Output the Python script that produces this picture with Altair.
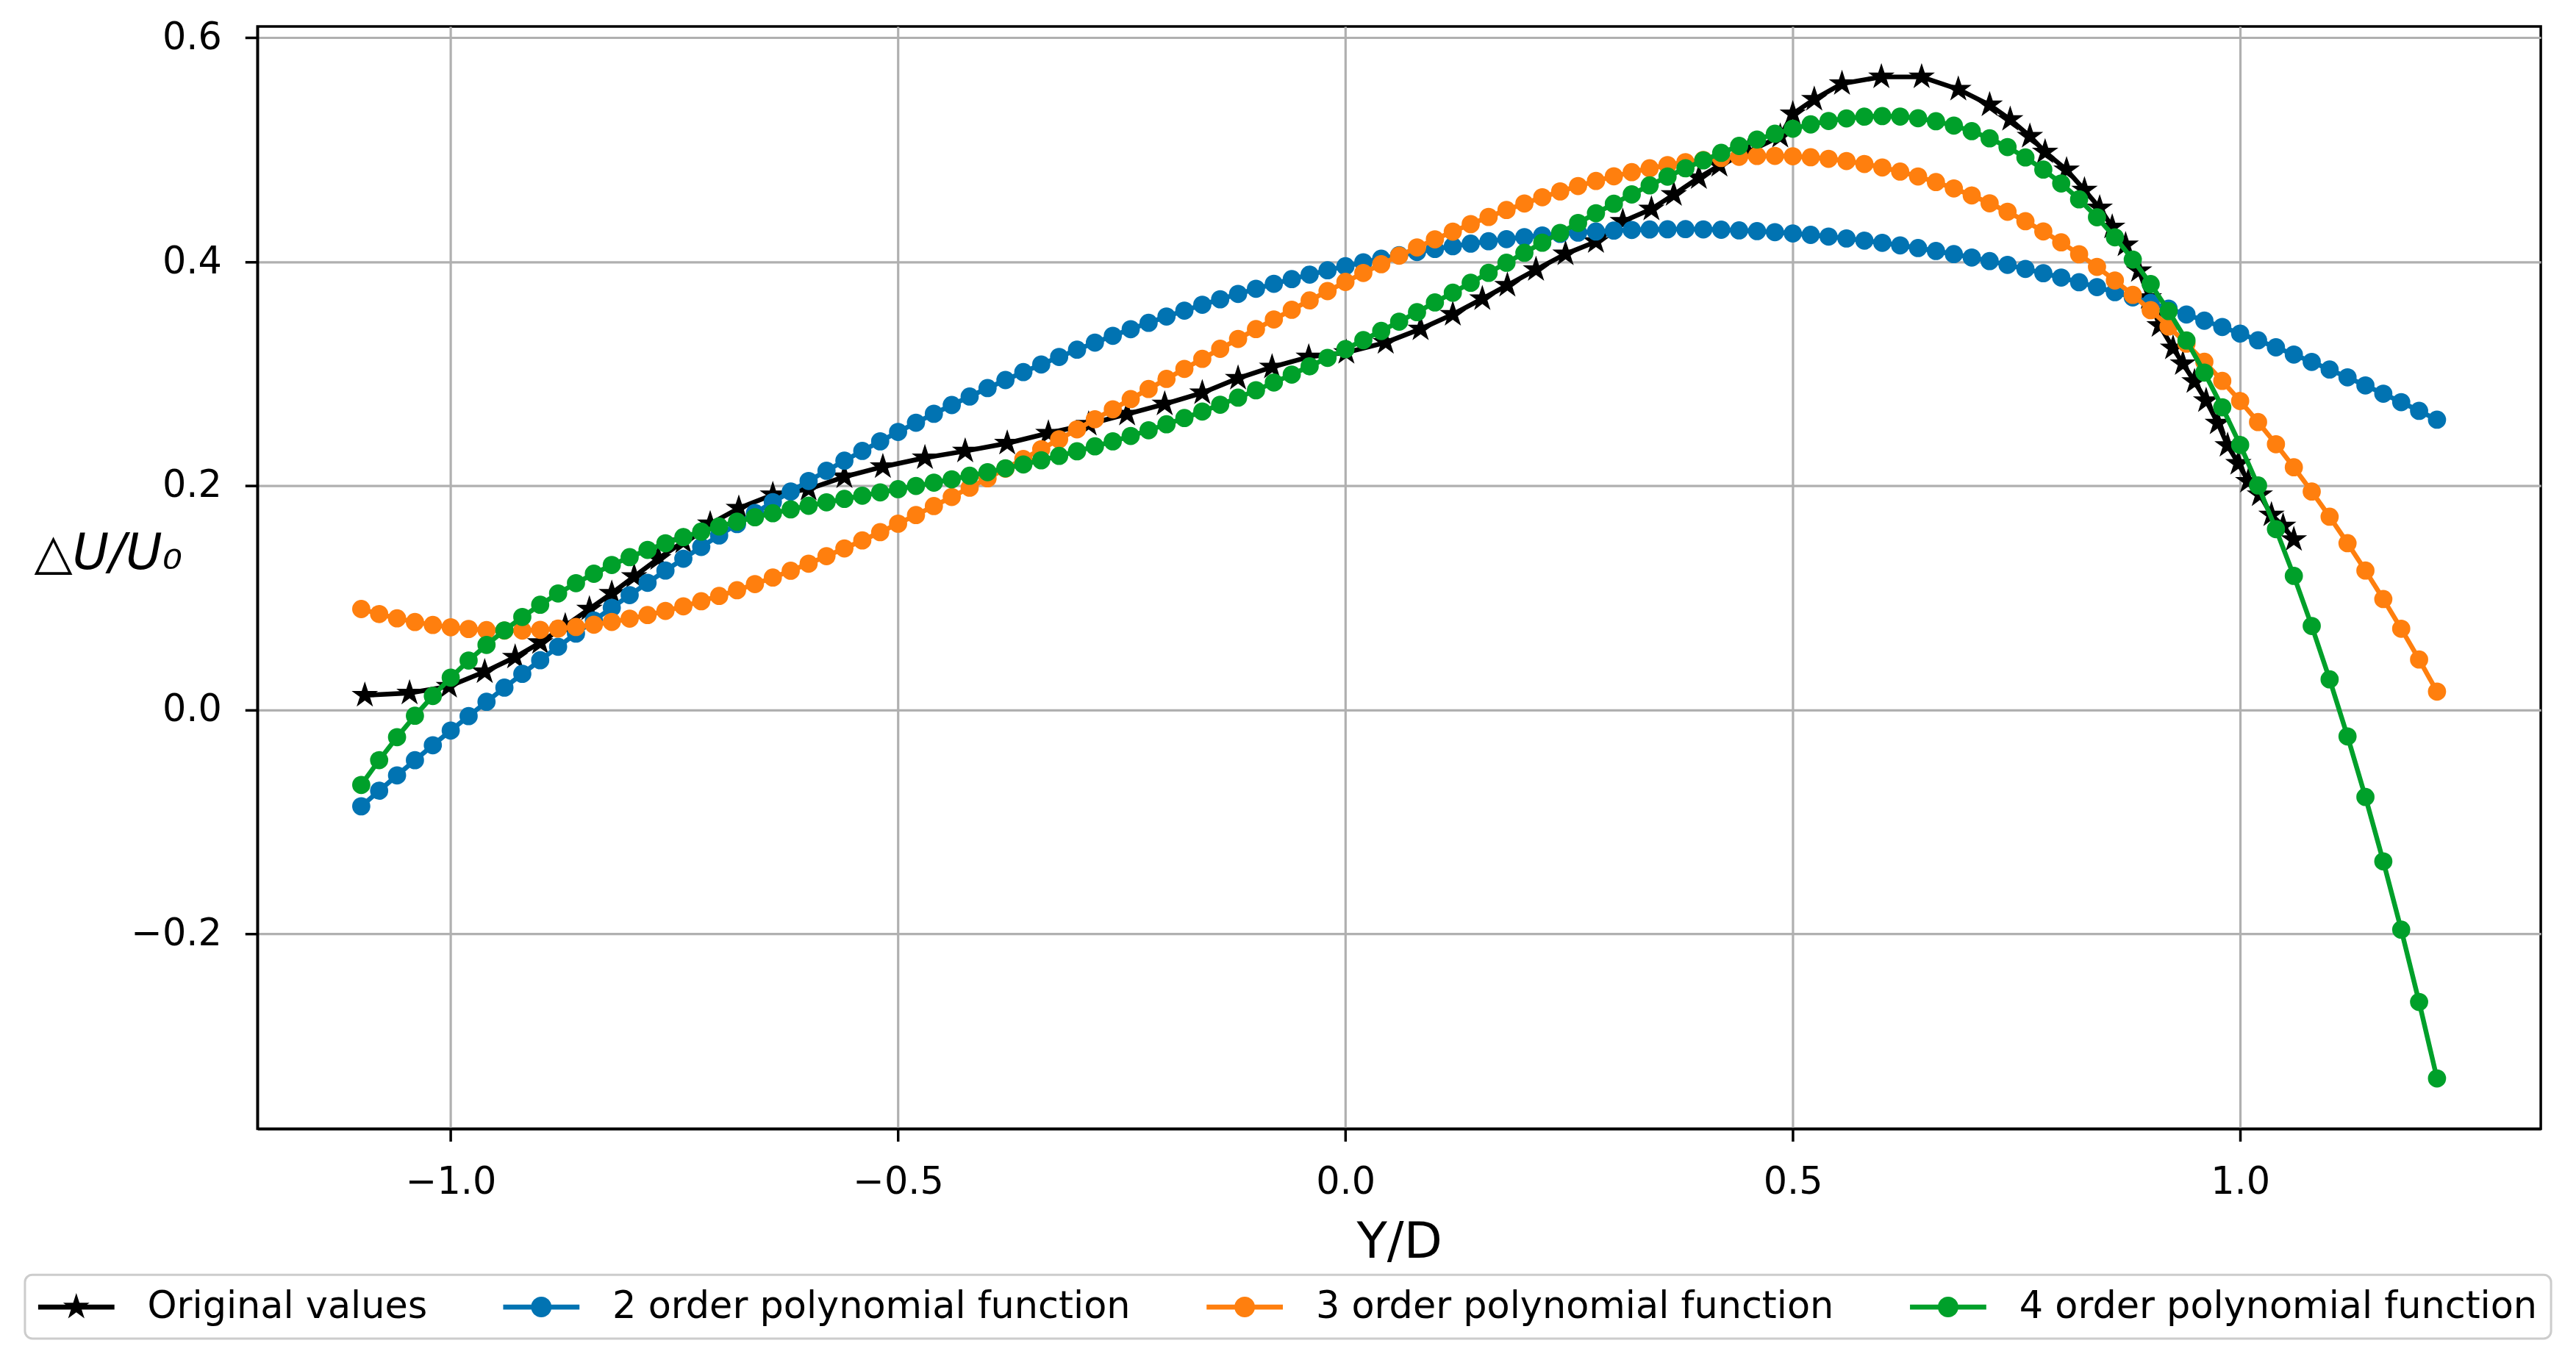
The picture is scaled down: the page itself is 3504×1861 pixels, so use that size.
import altair as alt
import pandas as pd

# ---------------- data ----------------
X_FIT = [-1.1, -1.08, -1.06, -1.04, -1.02, -1.0, -0.98, -0.96, -0.94, -0.92,
         -0.9, -0.88, -0.86, -0.84, -0.82, -0.8, -0.78, -0.76, -0.74, -0.72,
         -0.7, -0.68, -0.66, -0.64, -0.62, -0.6, -0.58, -0.56, -0.54, -0.52,
         -0.5, -0.48, -0.46, -0.44, -0.42, -0.4, -0.38, -0.36, -0.34, -0.32,
         -0.3, -0.28, -0.26, -0.24, -0.22, -0.2, -0.18, -0.16, -0.14, -0.12,
         -0.1, -0.08, -0.06, -0.04, -0.02, 0.0, 0.02, 0.04, 0.06, 0.08,
         0.1, 0.12, 0.14, 0.16, 0.18, 0.2, 0.22, 0.24, 0.26, 0.28,
         0.3, 0.32, 0.34, 0.36, 0.38, 0.4, 0.42, 0.44, 0.46, 0.48,
         0.5, 0.52, 0.54, 0.56, 0.58, 0.6, 0.62, 0.64, 0.66, 0.68,
         0.7, 0.72, 0.74, 0.76, 0.78, 0.8, 0.82, 0.84, 0.86, 0.88,
         0.9, 0.92, 0.94, 0.96, 0.98, 1.0, 1.02, 1.04, 1.06, 1.08,
         1.1, 1.12, 1.14, 1.16, 1.18, 1.2, 1.22]

Y_ORDER2 = [-0.0861, -0.0722, -0.0585, -0.0450, -0.0316, -0.0185, -0.0056, 0.0072, 0.0198, 0.0321,
            0.0443, 0.0563, 0.0681, 0.0797, 0.0911, 0.1024, 0.1134, 0.1243, 0.1349, 0.1454,
            0.1557, 0.1658, 0.1757, 0.1854, 0.1949, 0.2043, 0.2134, 0.2224, 0.2311, 0.2397,
            0.2481, 0.2563, 0.2643, 0.2721, 0.2797, 0.2872, 0.2944, 0.3015, 0.3083, 0.3150,
            0.3215, 0.3278, 0.3339, 0.3398, 0.3455, 0.3511, 0.3564, 0.3616, 0.3665, 0.3713,
            0.3759, 0.3803, 0.3845, 0.3885, 0.3924, 0.3960, 0.3995, 0.4027, 0.4058, 0.4087,
            0.4114, 0.4139, 0.4162, 0.4183, 0.4202, 0.4220, 0.4235, 0.4249, 0.4260, 0.4270,
            0.4278, 0.4284, 0.4288, 0.4290, 0.4291, 0.4289, 0.4286, 0.4280, 0.4273, 0.4264,
            0.4253, 0.4240, 0.4225, 0.4208, 0.4189, 0.4169, 0.4146, 0.4122, 0.4096, 0.4068,
            0.4038, 0.4006, 0.3972, 0.3936, 0.3898, 0.3859, 0.3817, 0.3774, 0.3729, 0.3682,
            0.3633, 0.3582, 0.3529, 0.3474, 0.3418, 0.3359, 0.3299, 0.3236, 0.3172, 0.3106,
            0.3038, 0.2968, 0.2896, 0.2822, 0.2747, 0.2669, 0.2590]

Y_ORDER3 = [0.0900, 0.0855, 0.0817, 0.0784, 0.0758, 0.0737, 0.0722, 0.0712, 0.0708, 0.0708,
            0.0714, 0.0725, 0.0740, 0.0760, 0.0785, 0.0814, 0.0846, 0.0883, 0.0924, 0.0969,
            0.1017, 0.1068, 0.1123, 0.1181, 0.1242, 0.1305, 0.1372, 0.1441, 0.1512, 0.1586,
            0.1662, 0.1739, 0.1819, 0.1900, 0.1983, 0.2067, 0.2153, 0.2239, 0.2327, 0.2415,
            0.2504, 0.2594, 0.2683, 0.2774, 0.2864, 0.2954, 0.3044, 0.3133, 0.3223, 0.3311,
            0.3399, 0.3485, 0.3571, 0.3655, 0.3738, 0.3820, 0.3900, 0.3978, 0.4054, 0.4128,
            0.4200, 0.4269, 0.4336, 0.4400, 0.4462, 0.4520, 0.4576, 0.4628, 0.4676, 0.4721,
            0.4763, 0.4800, 0.4834, 0.4863, 0.4889, 0.4909, 0.4926, 0.4937, 0.4944, 0.4945,
            0.4942, 0.4933, 0.4919, 0.4899, 0.4873, 0.4842, 0.4805, 0.4761, 0.4711, 0.4655,
            0.4592, 0.4522, 0.4446, 0.4362, 0.4271, 0.4173, 0.4067, 0.3954, 0.3833, 0.3704,
            0.3568, 0.3422, 0.3269, 0.3107, 0.2936, 0.2757, 0.2569, 0.2371, 0.2165, 0.1949,
            0.1724, 0.1488, 0.1243, 0.0989, 0.0724, 0.0449, 0.0163]

Y_ORDER4 = [-0.0670, -0.0449, -0.0244, -0.0053, 0.0124, 0.0288, 0.0440, 0.0580, 0.0709, 0.0829,
            0.0938, 0.1039, 0.1131, 0.1215, 0.1293, 0.1363, 0.1428, 0.1487, 0.1542, 0.1591,
            0.1637, 0.1680, 0.1719, 0.1755, 0.1790, 0.1822, 0.1853, 0.1883, 0.1912, 0.1941,
            0.1970, 0.1999, 0.2028, 0.2058, 0.2090, 0.2122, 0.2156, 0.2191, 0.2228, 0.2267,
            0.2308, 0.2352, 0.2397, 0.2445, 0.2496, 0.2549, 0.2605, 0.2663, 0.2724, 0.2787,
            0.2853, 0.2922, 0.2993, 0.3067, 0.3142, 0.3220, 0.3300, 0.3382, 0.3465, 0.3550,
            0.3637, 0.3724, 0.3812, 0.3901, 0.3991, 0.4080, 0.4170, 0.4258, 0.4346, 0.4433,
            0.4518, 0.4601, 0.4682, 0.4760, 0.4834, 0.4905, 0.4972, 0.5034, 0.5091, 0.5143,
            0.5188, 0.5226, 0.5257, 0.5280, 0.5295, 0.5300, 0.5296, 0.5281, 0.5254, 0.5216,
            0.5166, 0.5102, 0.5024, 0.4931, 0.4823, 0.4699, 0.4557, 0.4397, 0.4218, 0.4020,
            0.3801, 0.3560, 0.3297, 0.3011, 0.2701, 0.2365, 0.2003, 0.1613, 0.1196, 0.0749,
            0.0272, -0.0237, -0.0778, -0.1353, -0.1962, -0.2608, -0.3290]

ORIG_X = [-1.096, -1.046, -1.002, -0.962, -0.928, -0.900, -0.872, -0.845, -0.820, -0.795,
          -0.768, -0.740, -0.710, -0.678, -0.640, -0.600, -0.560, -0.517, -0.470, -0.425,
          -0.378, -0.332, -0.287, -0.244, -0.202, -0.160, -0.120, -0.082, -0.041, 0.001,
          0.045, 0.084, 0.120, 0.153, 0.181, 0.213, 0.246, 0.280, 0.310, 0.342,
          0.367, 0.395, 0.418, 0.450, 0.486, 0.500, 0.524, 0.555, 0.599, 0.644,
          0.685, 0.720, 0.743, 0.765, 0.782, 0.806, 0.826, 0.843, 0.857, 0.872,
          0.887, 0.898, 0.910, 0.925, 0.936, 0.949, 0.962, 0.975, 0.986, 0.998,
          1.009, 1.022, 1.035, 1.048, 1.060]
ORIG_Y = [0.013, 0.015, 0.021, 0.034, 0.047, 0.060, 0.075, 0.090, 0.104, 0.119,
          0.135, 0.150, 0.166, 0.180, 0.192, 0.197, 0.208, 0.217, 0.225, 0.231,
          0.238, 0.247, 0.255, 0.264, 0.273, 0.283, 0.296, 0.306, 0.315, 0.319,
          0.328, 0.340, 0.353, 0.367, 0.379, 0.393, 0.407, 0.418, 0.436, 0.447,
          0.460, 0.475, 0.486, 0.498, 0.512, 0.532, 0.545, 0.559, 0.565, 0.565,
          0.554, 0.540, 0.527, 0.512, 0.498, 0.482, 0.464, 0.448, 0.431, 0.415,
          0.392, 0.368, 0.343, 0.323, 0.309, 0.293, 0.276, 0.256, 0.236, 0.220,
          0.204, 0.192, 0.174, 0.164, 0.152]

SERIES = ["Original values", "2 order polynomial function",
          "3 order polynomial function", "4 order polynomial function"]
COLORS = ["#000000", "#0173B2", "#FF7F0E", "#00A02A"]
X_TICKS = [-1.0, -0.5, 0.0, 0.5, 1.0]
Y_TICKS = [-0.2, 0.0, 0.2, 0.4, 0.6]
X_DOMAIN = [-1.216, 1.336]
Y_DOMAIN = [-0.374, 0.61]

# ---------------- styling ----------------
FONT = "DejaVu Sans"
STAR = ("M0,-1L0.2245,-0.309L0.951,-0.309L0.363,0.118L0.588,0.809L0,0.382"
        "L-0.588,0.809L-0.363,0.118L-0.951,-0.309L-0.2245,-0.309Z")
LEG_LINE = "M-1,-0.13L3,-0.13L3,0.13L-1,0.13Z"
LEG_DOT = "M0.46,0A0.54,0.54,0,1,1,1.54,0A0.54,0.54,0,1,1,0.46,0Z"
LEG_STAR = ("M1,-0.73L1.1639,-0.2256L1.694,-0.2256L1.265,0.0861L1.4292,0.5906"
            "L1,0.2789L0.5708,0.5906L0.735,0.0861L0.306,-0.2256L0.8361,-0.2256Z")
LEG_SHAPES = [LEG_LINE + LEG_STAR, LEG_LINE + LEG_DOT, LEG_LINE + LEG_DOT, LEG_LINE + LEG_DOT]

PLOT_W, PLOT_H = 3113, 1503
LINE_W = 6.5
STAR_SIZE = 1444
DOT_SIZE = 616

x_enc = alt.X(
    "x:Q",
    scale=alt.Scale(domain=X_DOMAIN, nice=False, zero=False),
    axis=alt.Axis(
        values=X_TICKS, format=".1f", title="Y/D",
        grid=True, gridColor="#b0b0b0", gridWidth=3.2,
        domainColor="black", domainWidth=3.5,
        tickColor="black", tickWidth=3.5, tickSize=17,
        labelFont=FONT, labelFontSize=51, labelColor="black",
        labelBaseline="alphabetic", labelPadding=71,
        labelFlush=False, labelOverlap=False,
        titleFont=FONT, titleFontSize=68, titleFontWeight="normal",
        titleColor="black", titleBaseline="alphabetic", titleY=175,
    ),
)
y_enc = alt.Y(
    "y:Q",
    scale=alt.Scale(domain=Y_DOMAIN, nice=False, zero=False),
    axis=alt.Axis(
        values=Y_TICKS, format=".1f", title="\u25b3U/U\u2080",
        grid=True, gridColor="#b0b0b0", gridWidth=3.2,
        domainColor="black", domainWidth=3.5,
        tickColor="black", tickWidth=3.5, tickSize=17,
        labelFont=FONT, labelFontSize=51, labelColor="black",
        labelBaseline="middle", labelPadding=32,
        labelFlush=False, labelOverlap=False,
        titleFont=FONT, titleFontSize=68, titleFontWeight="normal",
        titleFontStyle="italic", titleColor="black",
        titleAngle=0, titleAlign="center", titleBaseline="middle",
        titleX=-204, titleY=719,
    ),
)


def frame(xs, ys, name):
    return pd.DataFrame({"x": xs, "y": ys, "series": name, "i": list(range(len(xs)))})


orig_df = frame(ORIG_X, ORIG_Y, SERIES[0])
fit_dfs = [frame(X_FIT, Y_ORDER2, SERIES[1]),
           frame(X_FIT, Y_ORDER3, SERIES[2]),
           frame(X_FIT, Y_ORDER4, SERIES[3])]

legend = alt.Legend(title=None, orient="none", legendX=-317, legendY=1702,
                    direction="horizontal", columns=4)
leg_df = pd.DataFrame({
    "x": [ORIG_X[0], X_FIT[0], X_FIT[0], X_FIT[0]],
    "y": [ORIG_Y[0], Y_ORDER2[0], Y_ORDER3[0], Y_ORDER4[0]],
    "series": SERIES,
})
legend_layer = alt.Chart(leg_df).mark_point(filled=True, strokeWidth=0, opacity=1).encode(
    x=x_enc, y=y_enc,
    color=alt.Color("series:N", scale=alt.Scale(domain=SERIES, range=COLORS), legend=legend),
    shape=alt.Shape("series:N", scale=alt.Scale(domain=SERIES, range=LEG_SHAPES), legend=legend),
    fillOpacity=alt.value(0),
)

layers = [legend_layer]
layers.append(alt.Chart(orig_df).mark_line(color=COLORS[0], strokeWidth=LINE_W).encode(
    x=x_enc, y=y_enc, order="i:Q"))
layers.append(alt.Chart(orig_df).mark_point(
    shape=STAR, size=STAR_SIZE, filled=True, color=COLORS[0], opacity=1, strokeWidth=0
).encode(x=x_enc, y=y_enc))
for df, col in zip(fit_dfs, COLORS[1:]):
    layers.append(alt.Chart(df).mark_line(color=col, strokeWidth=LINE_W).encode(
        x=x_enc, y=y_enc, order="i:Q"))
    layers.append(alt.Chart(df).mark_point(
        shape="circle", size=DOT_SIZE, filled=True, color=col, opacity=1, strokeWidth=0
    ).encode(x=x_enc, y=y_enc))

chart = alt.layer(*layers).properties(
    width=PLOT_W, height=PLOT_H,
    autosize=alt.AutoSizeParams(type="none"),
    padding={"left": 343, "top": 26, "right": 40, "bottom": 316},
    background="white",
).configure_view(
    stroke="black", strokeWidth=3.5
).configure_legend(
    symbolSize=2704, symbolStrokeWidth=0, symbolOpacity=1,
    labelFont=FONT, labelFontSize=51, labelColor="black",
    labelOffset=97, labelLimit=3000, columnPadding=103,
    padding=18, strokeColor="#cccccc", strokeWidth=3,
    fillColor="white", cornerRadius=10,
)

chart.save("out.html", embed_options={"renderer": "svg", "actions": False})
